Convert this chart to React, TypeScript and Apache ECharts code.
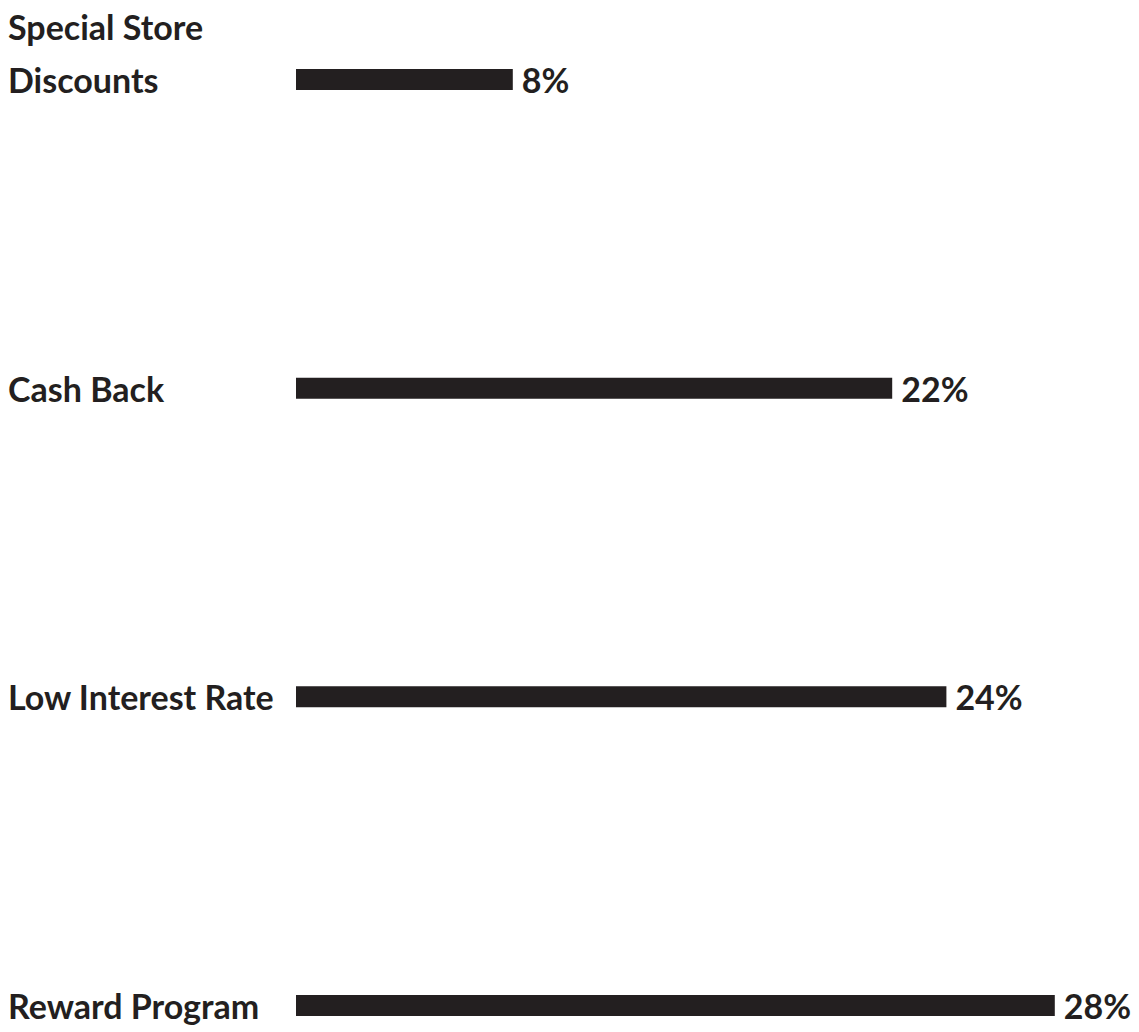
import React, { useEffect, useRef } from "react";
import * as echarts from "echarts";

const categories = ["Special Store Discounts", "Cash Back", "Low Interest Rate", "Reward Program"];
const labelLines = ["Special Store\nDiscounts\n ", "Cash Back", "Low Interest Rate", "Reward Program"];
const values = [8, 22, 24, 28];
const valueLabels = ["8%", "22%", "24%", "28%"];

const INK = "#231f20";
const FONT = "Lato";

export default function App() {
  const ref = useRef<HTMLDivElement>(null);
  useEffect(() => {
    if (!ref.current) return;
    const chart = echarts.init(ref.current, undefined, { renderer: "svg" });
    chart.setOption({
      animation: false,
      backgroundColor: "#ffffff",
      grid: { left: 296, right: 30, top: 78, bottom: 18, containLabel: false },
      xAxis: {
        type: "value",
        min: 0,
        max: 30,
        show: false,
      },
      yAxis: {
        type: "category",
        data: categories,
        inverse: true,
        boundaryGap: false,
        axisLine: { show: false },
        axisTick: { show: false },
        splitLine: { show: false },
        axisLabel: {
          align: "left",
          margin: 288,
          color: INK,
          fontFamily: FONT,
          fontWeight: "bold",
          fontSize: 34,
          lineHeight: 53,
          formatter: (v: string) => labelLines[categories.indexOf(v)],
        },
      },
      series: [
        {
          type: "bar",
          data: values,
          barWidth: 21,
          itemStyle: { color: INK },
          label: {
            show: true,
            position: "right",
            distance: 9,
            color: INK,
            fontFamily: FONT,
            fontWeight: "bold",
            fontSize: 34,
            formatter: (p: any) => valueLabels[p.dataIndex],
          },
        },
      ],
    });
    return () => chart.dispose();
  }, []);
  return (
    <div
      ref={ref}
      style={{ position: "fixed", left: 0, top: 0, width: 1139, height: 1032, background: "#fff" }}
    />
  );
}
